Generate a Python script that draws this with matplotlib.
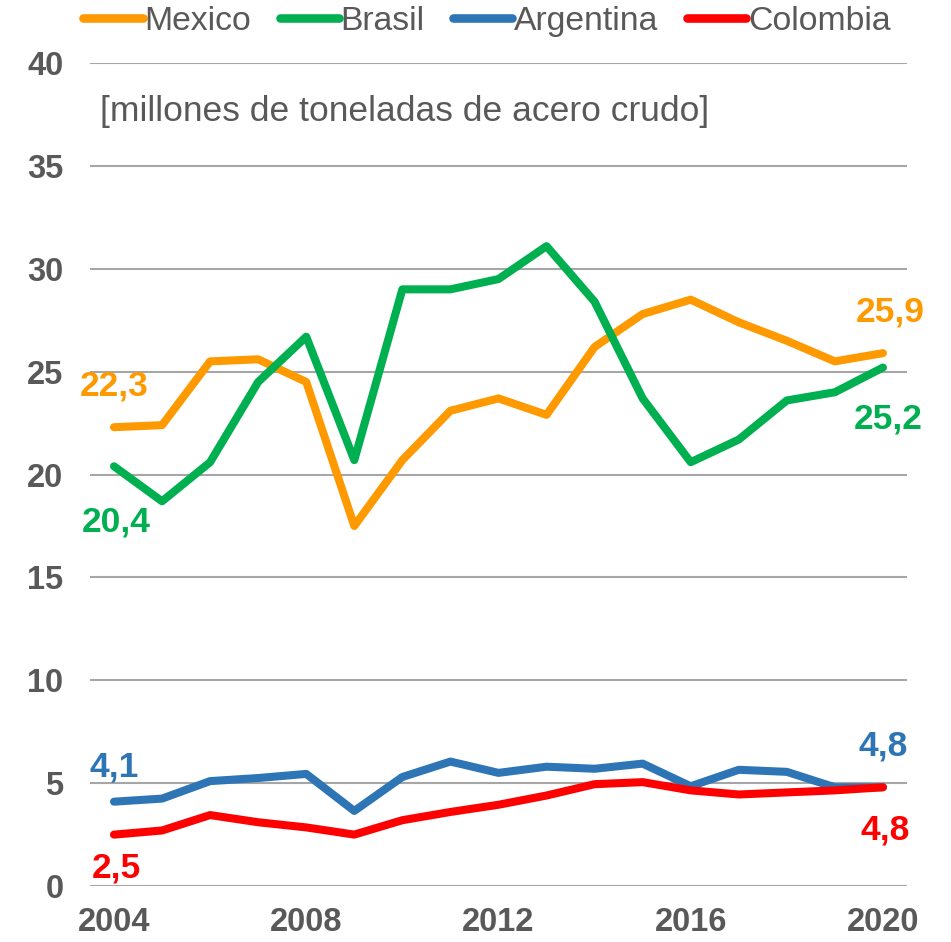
import matplotlib
matplotlib.use("Agg")
import matplotlib.pyplot as plt

# produccion de acero crudo, millones de toneladas
years = list(range(2004, 2021))
mexico = [22.3, 22.4, 25.5, 25.6, 24.5, 17.5, 20.7, 23.1, 23.7, 22.9, 26.2, 27.8, 28.5, 27.4, 26.5, 25.5, 25.9]
brasil = [20.4, 18.7, 20.6, 24.5, 26.7, 20.7, 29.0, 29.0, 29.5, 31.1, 28.4, 23.7, 20.6, 21.7, 23.6, 24.0, 25.2]
argentina = [4.1, 4.25, 5.1, 5.25, 5.45, 3.65, 5.3, 6.05, 5.5, 5.8, 5.7, 5.95, 4.85, 5.65, 5.55, 4.8, 4.8]
colombia = [2.5, 2.7, 3.45, 3.1, 2.85, 2.5, 3.2, 3.6, 3.95, 4.4, 4.95, 5.05, 4.65, 4.45, 4.55, 4.65, 4.8]

names = ["Mexico", "Brasil", "Argentina", "Colombia"]
colors = ["#FF9900", "#00B050", "#2E75B6", "#FF0000"]
series = [mexico, brasil, argentina, colombia]

x_ticks = [2004, 2008, 2012, 2016, 2020]
y_ticks = list(range(0, 45, 5))

plt.rcParams['font.family'] = ['Liberation Sans', 'DejaVu Sans']
grey = "#595959"

fig = plt.figure(figsize=(9.51, 9.42), dpi=100)
ax = fig.add_axes([0.0946, 0.0594, 0.8591, 0.8737])

for name, col, vals in zip(names, colors, series):
    ax.plot(years, vals, color=col, lw=5.8, solid_capstyle='round',
            solid_joinstyle='round', label=name, zorder=3)

# etiquetas de primer y ultimo valor
lab_kw = dict(fontsize=25.5, fontweight='bold', ha='center', va='center', zorder=4)
ax.text(2004.0, 24.3, "22,3", color=colors[0], **lab_kw)
ax.text(2004.05, 17.7, "20,4", color=colors[1], **lab_kw)
ax.text(2020.15, 27.9, "25,9", color=colors[0], **lab_kw)
ax.text(2020.1, 22.7, "25,2", color=colors[1], **lab_kw)
ax.text(2004.0, 5.8, "4,1", color=colors[2], **lab_kw)
ax.text(2020.0, 6.8, "4,8", color=colors[2], **lab_kw)
ax.text(2004.05, 0.9, "2,5", color=colors[3], **lab_kw)
ax.text(2020.05, 2.7, "4,8", color=colors[3], **lab_kw)

ax.set_xlim(2003.5, 2020.5)
ax.set_ylim(0, 40)
ax.set_xticks(x_ticks)
ax.set_yticks(y_ticks)
ax.yaxis.grid(True, color="#A6A6A6", lw=1.5, zorder=0)
ax.xaxis.grid(False)
ax.set_axisbelow(True)
for s in ax.spines.values():
    s.set_visible(False)
ax.tick_params(axis='both', length=0, labelsize=23.5, labelcolor=grey)
ax.tick_params(axis='y', pad=19)
ax.tick_params(axis='x', pad=15)
for t in ax.get_xticklabels() + ax.get_yticklabels():
    t.set_fontweight('bold')

ax.text(0.012, 0.941, "[millones de toneladas de acero crudo]", transform=ax.transAxes,
        fontsize=25.5, color=grey, ha='left', va='center')

leg = fig.legend(loc='center', bbox_to_anchor=(0.512, 0.977), ncol=4, frameon=False,
                 fontsize=24.3, handlelength=1.75, handletextpad=0.05, columnspacing=0.85,
                 borderaxespad=0, borderpad=0)
for t in leg.get_texts():
    t.set_color(grey)
for h in leg.get_lines():
    h.set_linewidth(6.2)

fig.savefig("out.png", dpi=100)
